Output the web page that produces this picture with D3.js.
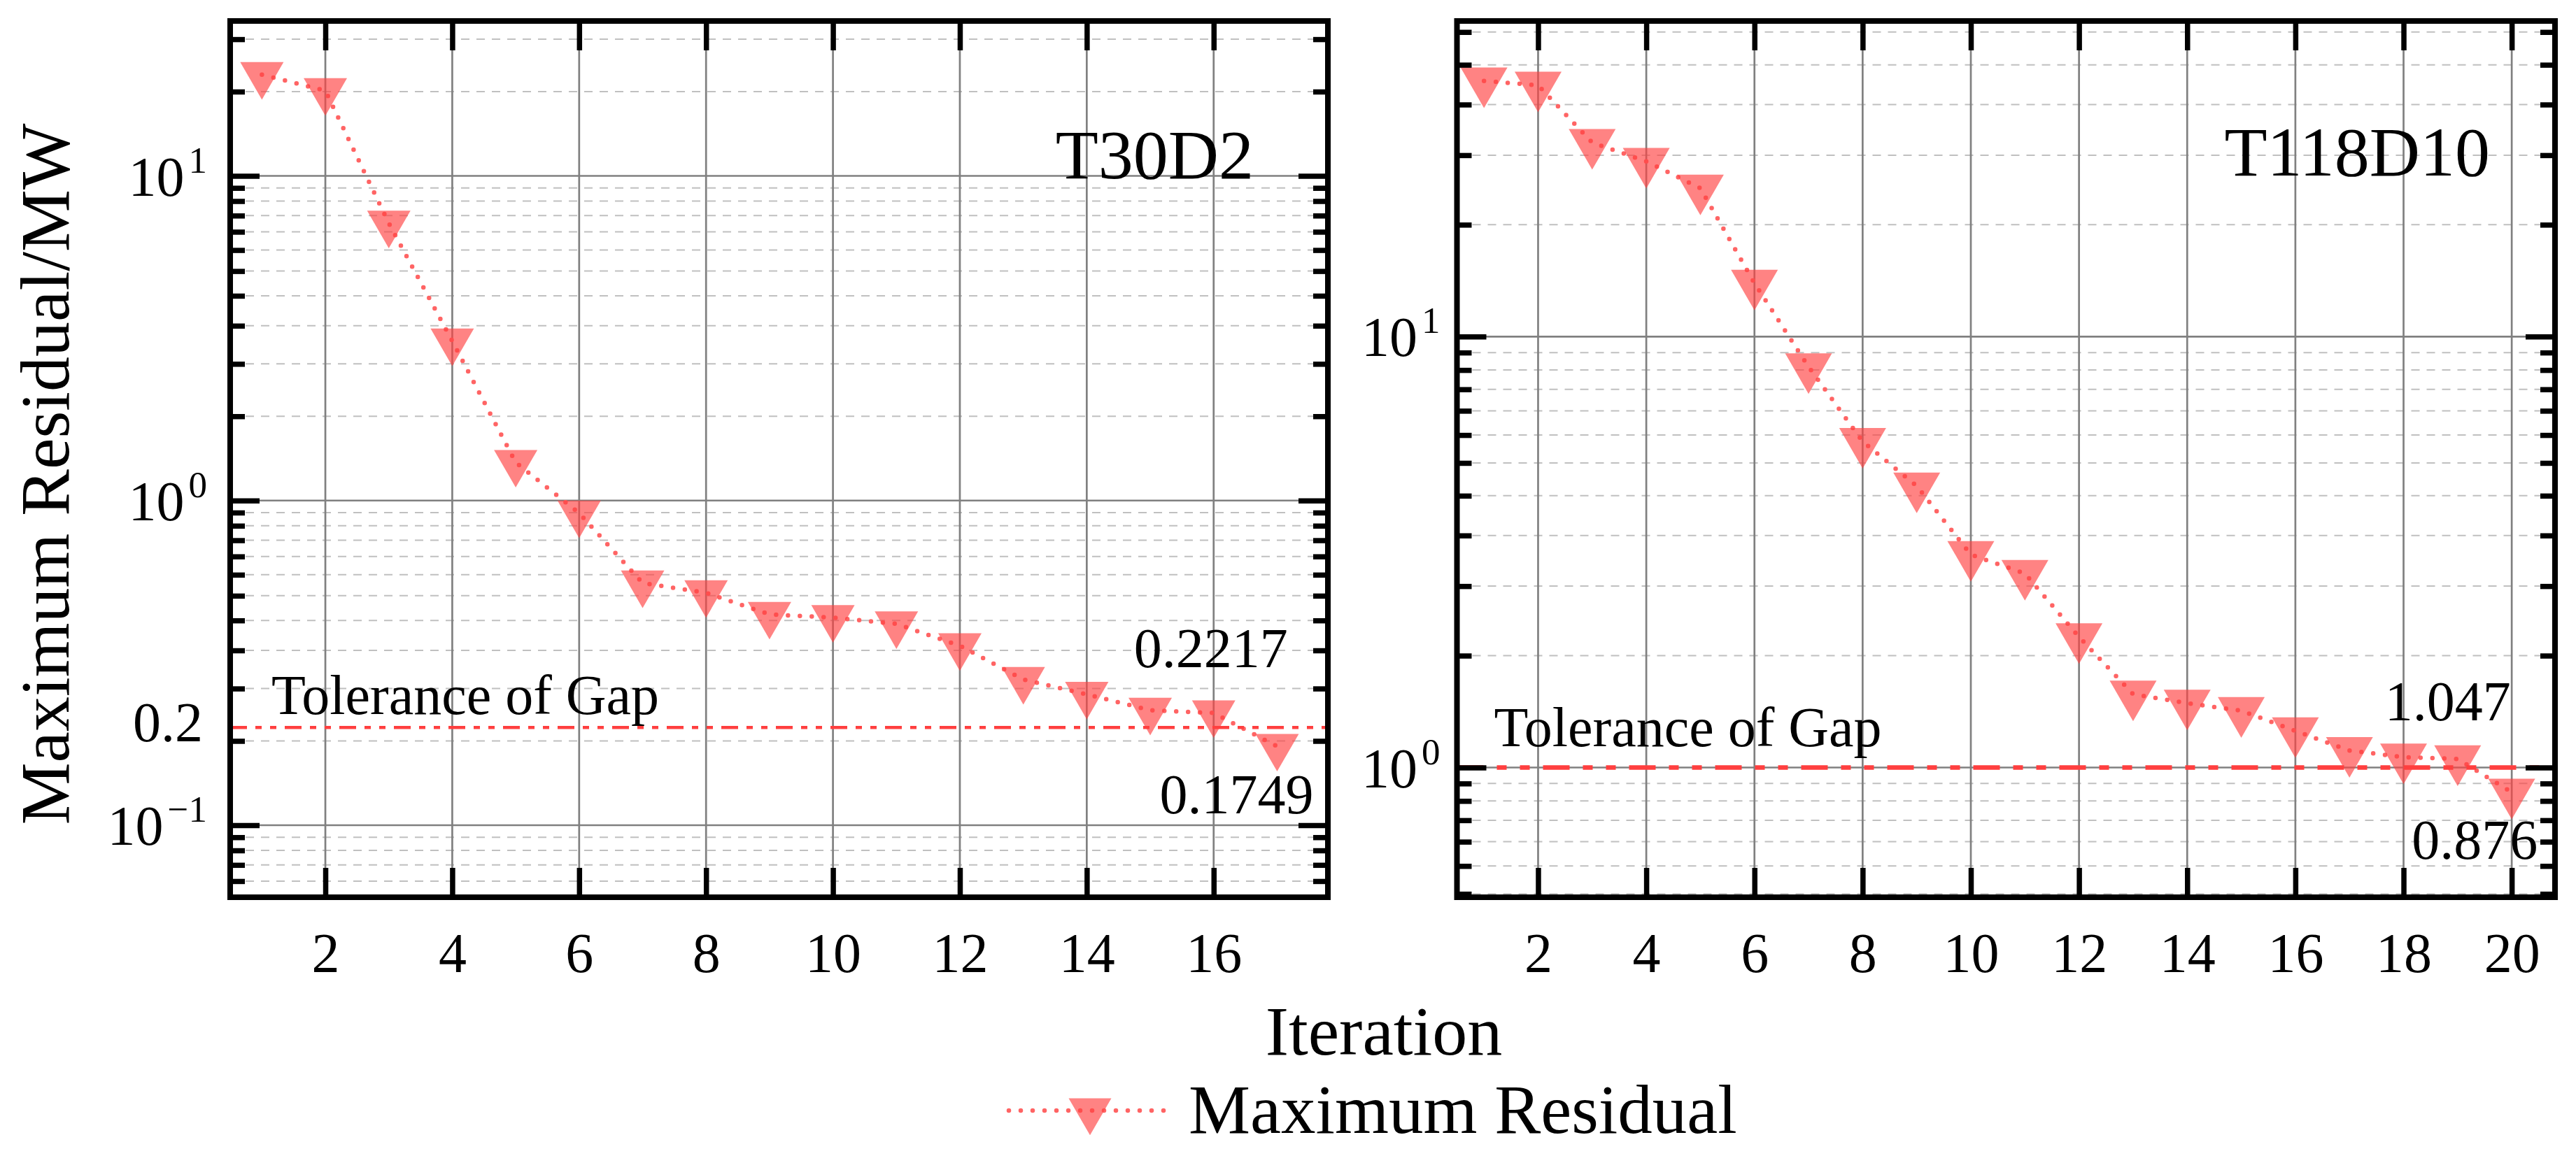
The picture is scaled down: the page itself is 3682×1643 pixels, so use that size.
<!DOCTYPE html>
<html>
<head>
<meta charset="utf-8">
<script src="https://cdn.jsdelivr.net/npm/d3@7"></script>
<style>
  body { margin: 0; background: #fff; }
</style>
</head>
<body>
<div id="chart"></div>
<script>
// ---- data ----
const itersT30D2 = [1, 2, 3, 4, 5, 6, 7, 8, 9, 10, 11, 12, 13, 14, 15, 16, 17];
const residT30D2 = [20.5, 18.3, 7.15, 3.1, 1.31, 0.915, 0.557, 0.52, 0.446, 0.436, 0.417, 0.357, 0.281, 0.253, 0.226, 0.2217, 0.1749];

const itersT118D10 = [1, 2, 3, 4, 5, 6, 7, 8, 9, 10, 11, 12, 13, 14, 15, 16, 17, 18, 19, 20];
const residT118D10 = [39.2, 38.3, 28.2, 25.5, 22.1, 13.3, 8.51, 5.71, 4.5, 3.12, 2.82, 2.01, 1.48, 1.41, 1.355, 1.216, 1.095, 1.057, 1.047, 0.876];

const xTicksT30D2 = [2, 4, 6, 8, 10, 12, 14, 16];
const xTicksT118D10 = [2, 4, 6, 8, 10, 12, 14, 16, 18, 20];

const yMajorT30D2 = [10, 1, 0.1];
const yMajorT118D10 = [10, 1];
const decades = [0.01, 0.1, 1, 10];
const minorSteps = [1.818, 2.636, 3.455, 4.273, 5.091, 5.909, 6.727, 7.545, 8.364, 9.182];

const tolT30D2 = 0.2;
const tolT118D10 = 1.0;

const notesT30D2 = [
  { iter: 16, value: 0.2217, text: "0.2217", dx: -4, dy: -65 },
  { iter: 17, value: 0.1749, text: "0.1749", dx: -58, dy: 96 }
];
const notesT118D10 = [
  { iter: 19, value: 1.047, text: "1.047", dx: -14, dy: -55 },
  { iter: 20, value: 0.876, text: "0.876", dx: -53, dy: 95 }
];

const seriesName = "Maximum Residual";

// ---- layout ----
const W = 3682, H = 1643;
const plotTop = 30, plotBottom = 1283;
const serif = "'Liberation Serif', 'Times New Roman', 'DejaVu Serif', serif";
const lineColor = "#ff6464";
const markerFill = "#ff4040";
const tolColor = "#ff3f3f";

const panels = [
  {
    title: "T30D2", iters: itersT30D2, resid: residT30D2, xTicks: xTicksT30D2,
    yMajor: yMajorT30D2, tol: tolT30D2, notes: notesT30D2, extraLabel: "0.2",
    x0: 329, x1: 1898, xDom: [0.5, 17.8], yDom: [0.06, 30],
    marker: 62, tolWidth: 4.7, tolDash: "24 12 9 12 9 12", tolTextX: 59, tolTextDy: -19,
    titleDx: -106, titleY: 255, labelGap: 33
  },
  {
    title: "T118D10", iters: itersT118D10, resid: residT118D10, xTicks: xTicksT118D10,
    yMajor: yMajorT118D10, tol: tolT118D10, notes: notesT118D10, extraLabel: null,
    x0: 2082.5, x1: 3652, xDom: [0.5, 20.8], yDom: [0.5, 54],
    marker: 67, tolWidth: 6.7, tolDash: "38 19 14 19 14 19", tolTextX: 53, tolTextDy: -31,
    titleDx: -93, titleY: 251, labelGap: 24
  }
];

const svg = d3.select("#chart").append("svg")
  .attr("width", W)
  .attr("height", H)
  .attr("viewBox", [0, 0, W, H])
  .attr("font-family", serif);

function triangle(size) {
  const h = size * Math.sqrt(3) / 2;
  return `M${-size / 2},${-h / 3}L${size / 2},${-h / 3}L0,${2 * h / 3}Z`;
}

function styleAxis(g, width) {
  g.select(".domain").remove();
  g.selectAll(".tick line").attr("stroke", "#000").attr("stroke-width", width);
  g.attr("font-family", serif).attr("font-size", null);
}

panels.forEach(p => {
  const x = d3.scaleLinear().domain(p.xDom).range([p.x0, p.x1]);
  const y = d3.scaleLog().domain(p.yDom).range([plotBottom, plotTop]);

  const minors = [];
  decades.forEach(d => minorSteps.forEach(m => {
    const v = d * m;
    if (v > p.yDom[0] && v < p.yDom[1]) minors.push(v);
  }));

  const g = svg.append("g");

  // minor y gridlines (dashed)
  g.append("g").selectAll("line")
    .data(minors)
    .join("line")
      .attr("x1", p.x0).attr("x2", p.x1)
      .attr("y1", d => y(d)).attr("y2", d => y(d))
      .attr("stroke", "#c0c0c0")
      .attr("stroke-width", 2)
      .attr("stroke-dasharray", "12 10");

  // major gridlines
  g.append("g").selectAll("line")
    .data(p.yMajor)
    .join("line")
      .attr("x1", p.x0).attr("x2", p.x1)
      .attr("y1", d => y(d)).attr("y2", d => y(d))
      .attr("stroke", "#808080")
      .attr("stroke-width", 2.7);

  g.append("g").selectAll("line")
    .data(p.xTicks)
    .join("line")
      .attr("x1", d => x(d)).attr("x2", d => x(d))
      .attr("y1", plotTop).attr("y2", plotBottom)
      .attr("stroke", "#808080")
      .attr("stroke-width", 2.7);

  // dotted connecting line
  const line = d3.line()
    .x((d, i) => x(p.iters[i]))
    .y(d => y(d));

  g.append("path")
    .datum(p.resid)
    .attr("d", line)
    .attr("fill", "none")
    .attr("stroke", lineColor)
    .attr("stroke-width", 6.5)
    .attr("stroke-linecap", "round")
    .attr("stroke-dasharray", "0 17");

  // markers
  g.append("g").selectAll("path")
    .data(p.resid)
    .join("path")
      .attr("transform", (d, i) => `translate(${x(p.iters[i])},${y(d)})`)
      .attr("d", triangle(p.marker))
      .attr("fill", markerFill)
      .attr("fill-opacity", 0.65);

  // tolerance line
  g.append("line")
    .attr("x1", p.x0).attr("x2", p.x1)
    .attr("y1", y(p.tol)).attr("y2", y(p.tol))
    .attr("stroke", tolColor)
    .attr("stroke-width", p.tolWidth)
    .attr("stroke-dasharray", p.tolDash);

  g.append("text")
    .attr("x", p.x0 + p.tolTextX)
    .attr("y", y(p.tol) + p.tolTextDy)
    .attr("font-size", 80)
    .text("Tolerance of Gap");

  // axes: ticks inward on all four sides
  g.append("g")
    .attr("transform", `translate(0,${plotBottom})`)
    .call(d3.axisBottom(x).tickValues(p.xTicks).tickSize(-42).tickPadding(50))
    .call(a => styleAxis(a, 7.5))
    .call(a => a.selectAll(".tick text").attr("font-size", 80));

  g.append("g")
    .attr("transform", `translate(0,${plotTop})`)
    .call(d3.axisTop(x).tickValues(p.xTicks).tickSize(-42).tickFormat(""))
    .call(a => styleAxis(a, 7.5));

  [[d3.axisLeft, p.x0], [d3.axisRight, p.x1]].forEach(([axisFn, xPos]) => {
    g.append("g")
      .attr("transform", `translate(${xPos},0)`)
      .call(axisFn(y).tickValues(minors).tickSize(-21).tickFormat(""))
      .call(a => styleAxis(a, 7.5));
    g.append("g")
      .attr("transform", `translate(${xPos},0)`)
      .call(axisFn(y).tickValues(p.yMajor).tickSize(-42).tickFormat(""))
      .call(a => styleAxis(a, 7.5));
  });

  // y tick labels with superscript exponents
  g.append("g").selectAll("text")
    .data(p.yMajor)
    .join("text")
      .attr("x", p.x0 - p.labelGap)
      .attr("y", d => y(d) + 28)
      .attr("text-anchor", "end")
      .attr("font-size", 80)
      .each(function(d) {
        const t = d3.select(this);
        const e = Math.round(Math.log10(d));
        t.append("tspan").text("10");
        t.append("tspan")
          .attr("dx", 6)
          .attr("dy", -33)
          .attr("font-size", 53)
          .text(e < 0 ? "\u2212" + (-e) : String(e));
      });

  if (p.extraLabel) {
    g.append("text")
      .attr("x", p.x0 - p.labelGap - 6)
      .attr("y", y(p.tol) + 20)
      .attr("text-anchor", "end")
      .attr("font-size", 80)
      .text(p.extraLabel);
  }

  // frame
  g.append("rect")
    .attr("x", p.x0).attr("y", plotTop)
    .attr("width", p.x1 - p.x0).attr("height", plotBottom - plotTop)
    .attr("fill", "none")
    .attr("stroke", "#000")
    .attr("stroke-width", 8);

  // panel title
  g.append("text")
    .attr("x", p.x1 + p.titleDx)
    .attr("y", p.titleY)
    .attr("text-anchor", "end")
    .attr("font-size", 100)
    .text(p.title);

  // value annotations
  g.append("g").selectAll("text")
    .data(p.notes)
    .join("text")
      .attr("x", d => x(d.iter) + d.dx)
      .attr("y", d => y(d.value) + d.dy)
      .attr("text-anchor", "middle")
      .attr("font-size", 80)
      .text(d => d.text);
});

// shared axis titles
svg.append("text")
  .attr("x", 1978)
  .attr("y", 1508)
  .attr("text-anchor", "middle")
  .attr("font-size", 100)
  .text("Iteration");

svg.append("text")
  .attr("transform", "translate(98,678) rotate(-90)")
  .attr("text-anchor", "middle")
  .attr("font-size", 100)
  .text("Maximum Residual/MW");

// legend
const legend = svg.append("g").attr("transform", "translate(0,1588)");
legend.append("line")
  .attr("x1", 1442).attr("x2", 1672)
  .attr("y1", 0).attr("y2", 0)
  .attr("stroke", lineColor)
  .attr("stroke-width", 6.5)
  .attr("stroke-linecap", "round")
  .attr("stroke-dasharray", "0 17");
legend.append("path")
  .attr("transform", "translate(1558,0)")
  .attr("d", triangle(61))
  .attr("fill", markerFill)
  .attr("fill-opacity", 0.65);
legend.append("text")
  .attr("x", 1699)
  .attr("y", 32)
  .attr("font-size", 99)
  .text(seriesName);
</script>
</body>
</html>
